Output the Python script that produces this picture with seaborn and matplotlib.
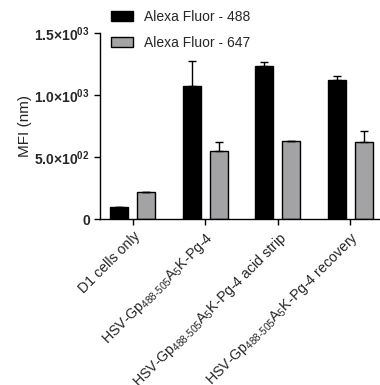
import matplotlib
matplotlib.use("Agg")
import matplotlib.pyplot as plt
import seaborn as sns
import pandas as pd

sns.set_style("ticks")
plt.rcParams['font.family'] = ['Liberation Sans', 'DejaVu Sans']
plt.rcParams['mathtext.default'] = 'regular'

groups = ["D1 cells only",
          "HSV-Gp$_{488‐505}$A$_5$K-Pg-4",
          "HSV-Gp$_{488‐505}$A$_5$K-Pg-4 acid strip",
          "HSV-Gp$_{488‐505}$A$_5$K-Pg-4 recovery"]
dyes = ["Alexa Fluor - 488", "Alexa Fluor - 647"]
mfi_488 = [100, 1073, 1231, 1118]
err_488 = [0, 200, 35, 40]
mfi_647 = [220, 551, 629, 618]
err_647 = [0, 72, 4, 94]
yticks = [0, 500, 1000, 1500]
ytick_labels = ["0", "5.0×10$^{02}$", "1.0×10$^{03}$", "1.5×10$^{03}$"]

df = pd.DataFrame({
    "group": groups * 2,
    "dye": [dyes[0]] * 4 + [dyes[1]] * 4,
    "mfi": mfi_488 + mfi_647,
})

fig = plt.figure(figsize=(3.8, 3.85), dpi=100)
ax = fig.add_axes([0.264, 0.431, 0.736, 0.483])

sns.barplot(ax=ax, data=df, x="group", y="mfi", hue="dye",
            palette=["#000000", "#a2a2a6"], edgecolor="black", linewidth=1,
            width=0.745, gap=0.33, errorbar=None)

# upward-only error bars on top of the drawn bars
for cont, err in zip(ax.containers, [err_488, err_647]):
    xs = [b.get_x() + b.get_width() / 2 for b in cont]
    hs = [b.get_height() for b in cont]
    ax.errorbar(xs, hs, yerr=[[0] * len(err), err], fmt="none",
                ecolor="black", elinewidth=1, capsize=3, capthick=1)

ax.set_ylim(0, 1500)
ax.set_xlim(-0.448, 3.41)
ax.set_yticks(yticks)
ax.set_yticklabels(ytick_labels, fontsize=10, fontweight="bold")
ax.set_xticks(range(len(groups)))
ax.set_xticklabels(groups, rotation=45, ha="right", rotation_mode="anchor",
                   fontsize=10.2)
ax.set_xlabel("")
ax.set_ylabel("MFI (nm)", fontsize=11, labelpad=2)
ax.tick_params(axis="both", length=4, width=1, color="black")
for s in ["left", "bottom"]:
    ax.spines[s].set_linewidth(1)
    ax.spines[s].set_color("black")
sns.despine(ax=ax)

h, l = ax.get_legend_handles_labels()
ax.get_legend().remove()
fig.legend(h, l, loc="upper left", bbox_to_anchor=(0.266, 1.0), frameon=False,
           fontsize=10, handlelength=1.6, handleheight=0.75,
           labelspacing=0.85, handletextpad=0.8, borderaxespad=0.3)

fig.savefig("out.png", dpi=100)
